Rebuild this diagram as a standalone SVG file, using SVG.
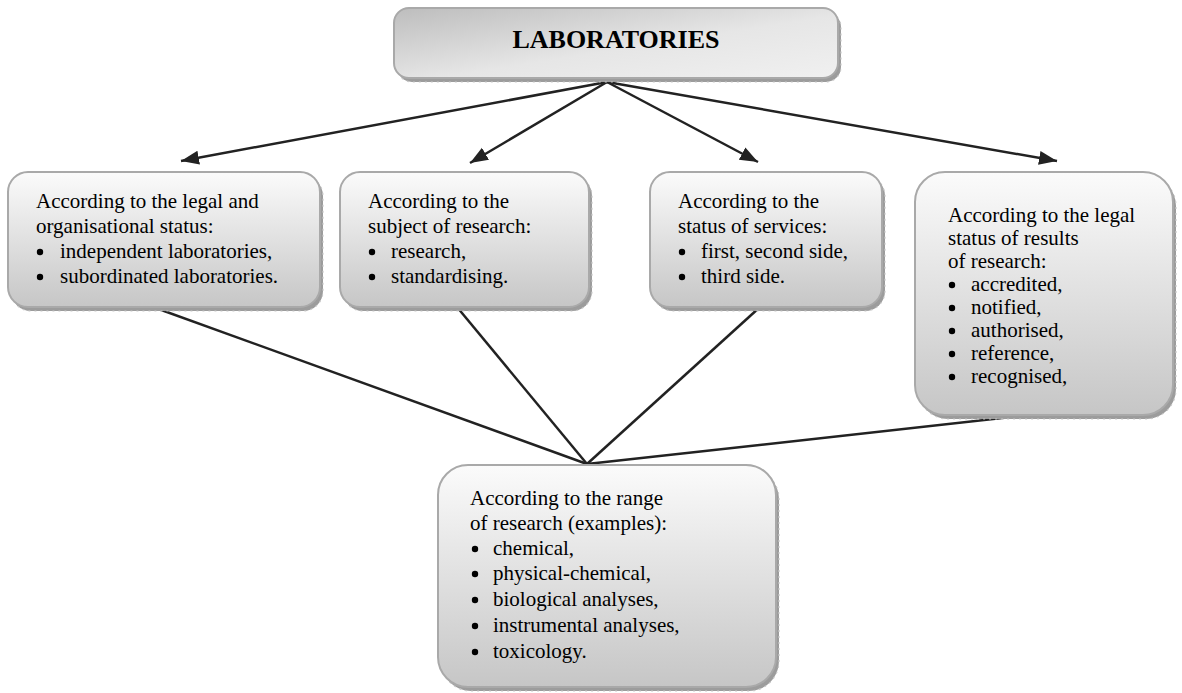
<svg xmlns="http://www.w3.org/2000/svg" width="1182" height="693" viewBox="0 0 1182 693">
<style>
.box{fill:url(#gBox);stroke:#a9a9a9;stroke-width:2}
.shadow{fill:#9c9c9c;stroke:#c8c8c8;stroke-width:1.2;stroke-dasharray:2 4}
.t{font-family:"Liberation Serif","Times New Roman",serif;font-size:21px;fill:#000}
.title{font-family:"Liberation Serif","Times New Roman",serif;font-size:26px;font-weight:bold;fill:#000}
.conn{stroke:#222;stroke-width:2.5;fill:none}
</style>
<defs>
<linearGradient id="gBox" x1="0" y1="0" x2="0" y2="1">
<stop offset="0" stop-color="#fbfbfb"/>
<stop offset="1" stop-color="#c6c6c6"/>
</linearGradient>
<linearGradient id="gTop" x1="0" y1="0" x2="1" y2="1">
<stop offset="0" stop-color="#bdbdbd"/>
<stop offset="0.55" stop-color="#e6e6e6"/>
<stop offset="1" stop-color="#f0f0f0"/>
</linearGradient>
<marker id="ah" markerUnits="userSpaceOnUse" markerWidth="20" markerHeight="16" refX="18" refY="7" orient="auto">
<path d="M0,0 L18,7 L0,14 Z" fill="#222"/>
</marker>
</defs>

<g id="connectors">
<line class="conn" x1="607" y1="82" x2="181" y2="161" marker-end="url(#ah)"/>
<line class="conn" x1="607" y1="82" x2="470" y2="163" marker-end="url(#ah)"/>
<line class="conn" x1="607" y1="82" x2="758" y2="162" marker-end="url(#ah)"/>
<line class="conn" x1="607" y1="82" x2="1057" y2="161" marker-end="url(#ah)"/>
<line class="conn" x1="153" y1="307" x2="587" y2="464"/>
<line class="conn" x1="457" y1="307" x2="587" y2="464"/>
<line class="conn" x1="760" y1="307" x2="587" y2="464"/>
<line class="conn" x1="1057" y1="412" x2="587" y2="464"/>
</g>

<g id="node-laboratories">
<rect class="shadow" x="397" y="12" width="444" height="70" rx="15"/>
<rect x="394" y="8" width="444" height="70" rx="15" fill="url(#gTop)" stroke="#a9a9a9" stroke-width="2"/>
<text class="title" x="616" y="48" text-anchor="middle">LABORATORIES</text>
</g>

<g id="node-legal-org">
<rect class="shadow" x="11" y="176" width="312" height="135" rx="20"/>
<rect class="box" x="8" y="172" width="312" height="135" rx="20"/>
<text class="t" x="36" y="208">According to the legal and</text>
<text class="t" x="36" y="233">organisational status:</text>
<circle cx="40" cy="252" r="3.2"/><text class="t" x="60" y="258">independent laboratories,</text>
<circle cx="40" cy="277" r="3.2"/><text class="t" x="60" y="283">subordinated laboratories.</text>
</g>

<g id="node-subject">
<rect class="shadow" x="343" y="176" width="249" height="135" rx="20"/>
<rect class="box" x="340" y="172" width="249" height="135" rx="20"/>
<text class="t" x="368" y="208">According to the</text>
<text class="t" x="368" y="233">subject of research:</text>
<circle cx="372" cy="252" r="3.2"/><text class="t" x="391" y="258">research,</text>
<circle cx="372" cy="277" r="3.2"/><text class="t" x="391" y="283">standardising.</text>
</g>

<g id="node-services">
<rect class="shadow" x="653" y="176" width="232" height="135" rx="20"/>
<rect class="box" x="650" y="172" width="232" height="135" rx="20"/>
<text class="t" x="678" y="208">According to the</text>
<text class="t" x="678" y="233">status of services:</text>
<circle cx="682" cy="252" r="3.2"/><text class="t" x="701" y="258">first, second side,</text>
<circle cx="682" cy="277" r="3.2"/><text class="t" x="701" y="283">third side.</text>
</g>

<g id="node-results">
<rect class="shadow" x="918" y="176" width="258" height="243" rx="30"/>
<rect class="box" x="915" y="172" width="258" height="243" rx="30"/>
<text class="t" x="948" y="222">According to the legal</text>
<text class="t" x="948" y="245">status of results</text>
<text class="t" x="948" y="268">of research:</text>
<circle cx="952" cy="285" r="3.2"/><text class="t" x="971" y="291">accredited,</text>
<circle cx="952" cy="308" r="3.2"/><text class="t" x="971" y="314">notified,</text>
<circle cx="952" cy="331" r="3.2"/><text class="t" x="971" y="337">authorised,</text>
<circle cx="952" cy="354" r="3.2"/><text class="t" x="971" y="360">reference,</text>
<circle cx="952" cy="377" r="3.2"/><text class="t" x="971" y="383">recognised,</text>
</g>

<g id="node-range">
<rect class="shadow" x="441" y="469" width="338" height="222" rx="30"/>
<rect class="box" x="438" y="465" width="338" height="222" rx="30"/>
<text class="t" x="470" y="505">According to the range</text>
<text class="t" x="470" y="530">of research (examples):</text>
<circle cx="475" cy="549" r="3.2"/><text class="t" x="493" y="555">chemical,</text>
<circle cx="475" cy="574" r="3.2"/><text class="t" x="493" y="580">physical-chemical,</text>
<circle cx="475" cy="600" r="3.2"/><text class="t" x="493" y="606">biological analyses,</text>
<circle cx="475" cy="626" r="3.2"/><text class="t" x="493" y="632">instrumental analyses,</text>
<circle cx="475" cy="652" r="3.2"/><text class="t" x="493" y="658">toxicology.</text>
</g>
</svg>
